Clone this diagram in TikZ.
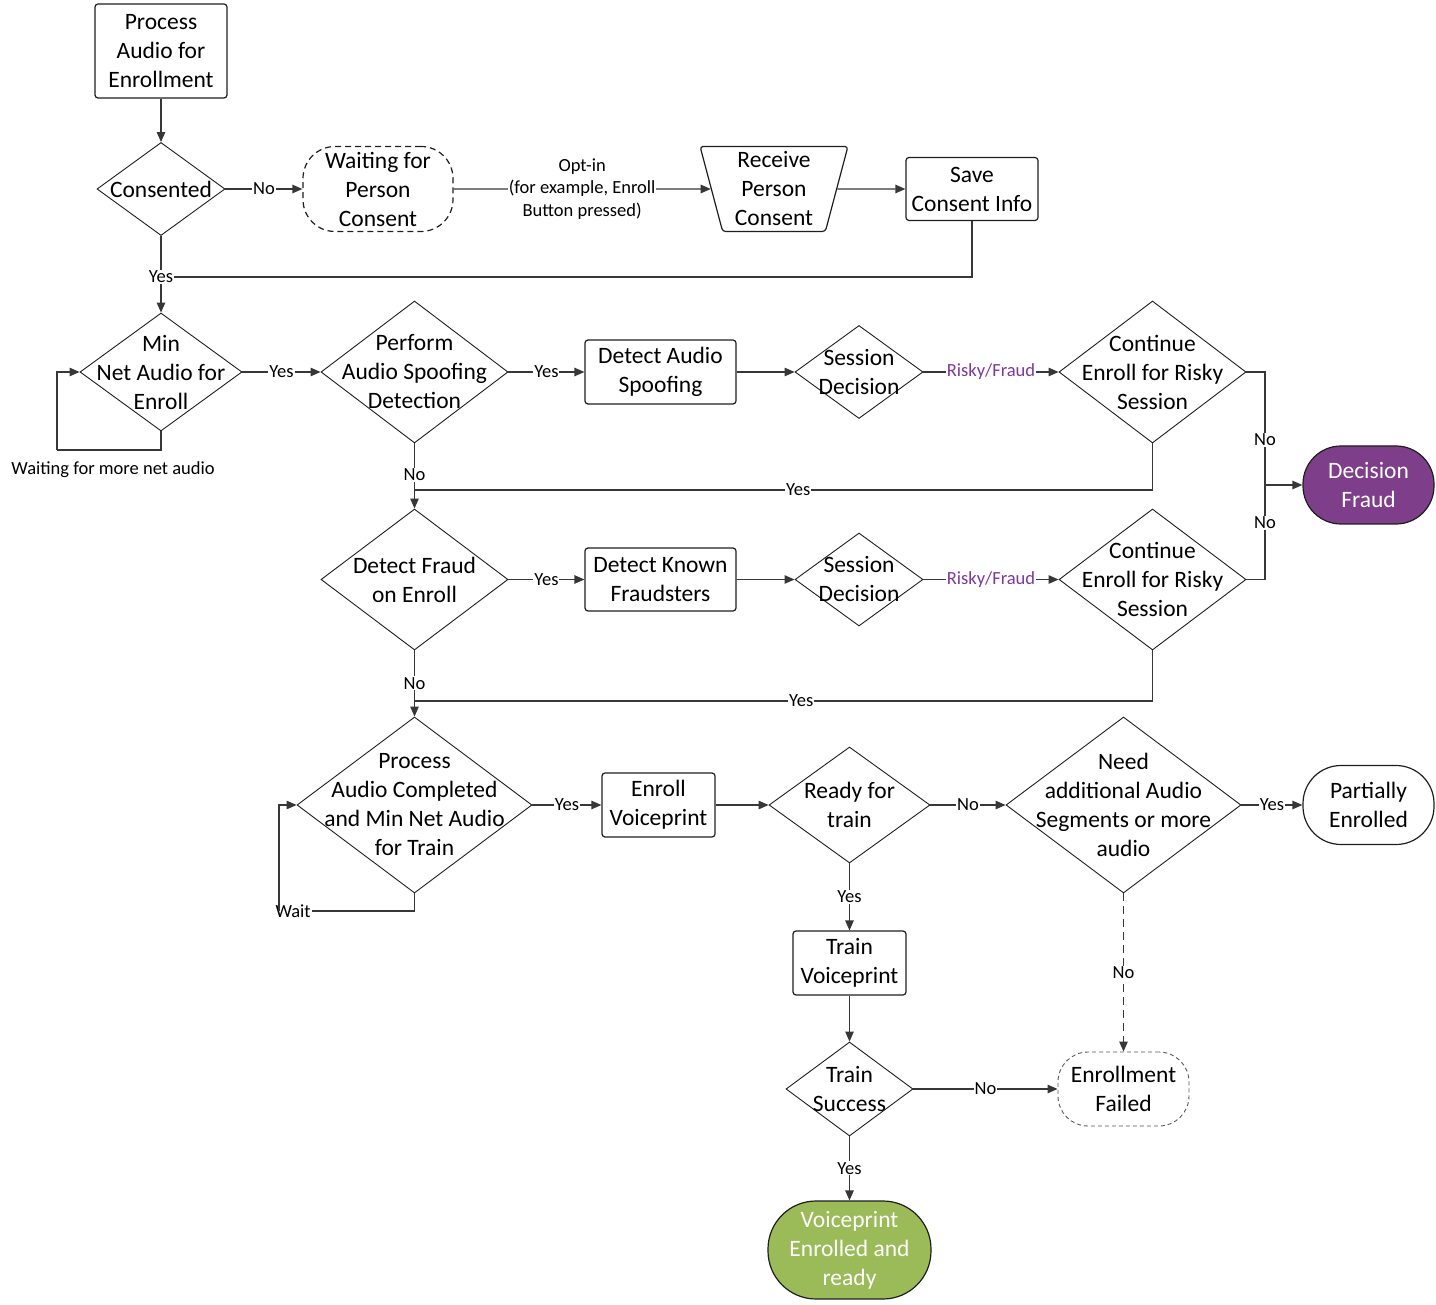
\documentclass[tikz,border=0pt]{standalone}
\usepackage{fontspec}
\setmainfont{Carlito}
\usetikzlibrary{shapes.geometric,arrows.meta}
\definecolor{ln}{RGB}{55,55,55}
\definecolor{bd}{RGB}{30,30,30}
\definecolor{fraudc}{RGB}{126,62,138}
\definecolor{riskc}{RGB}{125,55,160}
\definecolor{greenc}{RGB}{155,187,89}
\begin{document}
\begin{tikzpicture}[x=1pt,y=-1pt,
  txt/.style={font=\fontsize{23.5}{29}\selectfont, align=center, inner sep=0pt},
  box/.style={txt, draw=bd, line width=1.2pt, rounded corners=3pt},
  dia/.style={diamond, draw=bd, line width=0.9pt, inner sep=0pt},
  term/.style={txt, draw=bd, line width=1.2pt},
  lbl/.style={font=\fontsize{18.5}{22.5}\selectfont, align=center, fill=white, inner sep=1pt},
  con/.style={draw=ln, line width=1.2pt},
  arr/.style={con, -{Triangle[length=10pt,width=8.5pt]}}
]
\useasboundingbox (0,0) rectangle (1436,1305);

% nodes
\node[box, minimum width=132pt, minimum height=94pt] (proc) at (161,51) {Process\\Audio for\\Enrollment};
\node[dia, minimum width=128pt, minimum height=93pt, label={[txt]center:Consented}] (cons) at (161,189) {};
\node[term, dashed, dash pattern=on 6pt off 4pt, minimum width=150pt, minimum height=85pt, rounded corners=32pt] (wait) at (378,189) {Waiting for\\Person\\Consent};
\node[txt, draw=bd, line width=1.2pt, trapezium, trapezium stretches=true, shape border rotate=180, trapezium left angle=77, trapezium right angle=77, minimum width=148pt, minimum height=85pt, rounded corners=3pt] (recv) at (774,189) {Receive\\Person\\Consent};
\node[box, minimum width=132pt, minimum height=63pt] (save) at (972,189) {Save\\Consent Info};

\node[dia, minimum width=162pt, minimum height=118pt, label={[txt]center:{Min\\Net Audio for\\Enroll}}] (minnet) at (161,372) {};
\node[dia, minimum width=187pt, minimum height=142pt, label={[txt]center:{Perform\\Audio Spoofing\\Detection}}] (spoof) at (414.5,372) {};
\node[box, minimum width=151pt, minimum height=64pt] (detaudio) at (660.5,372) {Detect Audio\\Spoofing};
\node[dia, minimum width=128pt, minimum height=93pt, label={[txt]center:{Session\\Decision}}] (sess1) at (859,372) {};
\node[dia, minimum width=187pt, minimum height=142pt, label={[txt]center:{Continue\\Enroll for Risky\\Session}}] (cont1) at (1152.5,372) {};
\node[term, fill=fraudc, text=white, minimum width=131pt, minimum height=78pt, rounded corners=38pt] (fraud) at (1368.5,485) {Decision\\Fraud};

\node[dia, minimum width=187pt, minimum height=141pt, label={[txt]center:{Detect Fraud\\on Enroll}}] (detfraud) at (414.5,579.5) {};
\node[box, minimum width=151pt, minimum height=63pt] (known) at (660.5,579.5) {Detect Known\\Fraudsters};
\node[dia, minimum width=128pt, minimum height=93pt, label={[txt]center:{Session\\Decision}}] (sess2) at (859,579.5) {};
\node[dia, minimum width=187pt, minimum height=141pt, label={[txt]center:{Continue\\Enroll for Risky\\Session}}] (cont2) at (1152.5,579.5) {};

\node[dia, minimum width=235pt, minimum height=176pt, label={[txt]center:{Process\\Audio Completed\\and Min Net Audio\\for Train}}] (pac) at (414.5,805) {};
\node[box, minimum width=113pt, minimum height=64pt] (enroll) at (658.5,805) {Enroll\\Voiceprint};
\node[dia, minimum width=161pt, minimum height=116pt, label={[txt]center:{Ready for\\train}}] (ready) at (849.5,805) {};
\node[dia, minimum width=235pt, minimum height=176pt, label={[txt]center:{Need\\additional Audio\\Segments or more\\audio}}] (need) at (1123.5,805) {};
\node[term, minimum width=131pt, minimum height=79pt, rounded corners=38pt] (partial) at (1368.5,805) {Partially\\Enrolled};

\node[box, minimum width=113pt, minimum height=64pt] (train) at (849.5,963) {Train\\Voiceprint};
\node[dia, minimum width=127pt, minimum height=94pt, label={[txt]center:{Train\\Success}}] (success) at (849.5,1089) {};
\node[term, draw=black!65, line width=0.9pt, dashed, dash pattern=on 4pt off 3pt, minimum width=131pt, minimum height=74pt, rounded corners=30pt] (failed) at (1123.5,1089) {Enrollment\\Failed};
\node[term, fill=greenc, text=white, minimum width=163pt, minimum height=98pt, rounded corners=48pt] (voice) at (849.5,1250) {Voiceprint\\Enrolled and\\ready};

\node[font=\fontsize{18.5}{22.5}\selectfont, inner sep=0pt] (waitnote) at (113,470) {Waiting for more net audio};

% junctions
\coordinate (j1) at (161,277);
\coordinate (l1) at (57,450);
\coordinate (j2) at (414.5,490);
\coordinate (j3) at (414.5,701);
\coordinate (j4) at (1265,485);
\coordinate (l2) at (279,911);

% connectors
\draw[arr] (proc.south) -- (cons.north);
\draw[arr] (cons.east) -- node[lbl]{No} (wait.west);
\draw[arr] (wait.east) -- node[lbl]{Opt-in\\(for example, Enroll\\Button pressed)} (recv);
\draw[arr] (recv) -- (save.west);
\draw[con] (save.south) |- (j1);
\draw[arr] (cons.south) -- (j1) node[lbl]{Yes} -- (minnet.north);

\draw[con] (minnet.south) |- (l1);
\draw[arr] (l1) |- (minnet.west);
\draw[arr] (minnet.east) -- node[lbl]{Yes} (spoof.west);
\draw[arr] (spoof.east) -- node[lbl]{Yes} (detaudio.west);
\draw[arr] (detaudio.east) -- (sess1.west);
\draw[arr] (sess1.east) -- node[lbl, text=riskc]{Risky/Fraud} (cont1.west);
\draw[con] (cont1.east) -| node[lbl, pos=0.8]{No} (j4);
\draw[con] (cont2.east) -| node[lbl, pos=0.8]{No} (j4);
\draw[arr] (j4) -- (fraud.west);
\draw[con] (cont1.south) |- node[lbl, pos=0.74]{Yes} (j2);
\draw[arr] (spoof.south) -- node[lbl, pos=0.68]{No} (j2) -- (detfraud.north);

\draw[arr] (detfraud.east) -- node[lbl]{Yes} (known.west);
\draw[arr] (known.east) -- (sess2.west);
\draw[arr] (sess2.east) -- node[lbl, text=riskc]{Risky/Fraud} (cont2.west);
\draw[con] (cont2.south) |- node[lbl, pos=0.738]{Yes} (j3);
\draw[arr] (detfraud.south) -- node[lbl, pos=0.65]{No} (j3) -- (pac.north);

\draw[con] (pac.south) |- node[lbl, pos=0.948]{Wait} (l2);
\draw[arr] (l2) |- (pac.west);
\draw[arr] (pac.east) -- node[lbl]{Yes} (enroll.west);
\draw[arr] (enroll.east) -- (ready.west);
\draw[arr] (ready.east) -- node[lbl]{No} (need.west);
\draw[arr] (need.east) -- node[lbl]{Yes} (partial.west);
\draw[arr] (ready.south) -- node[lbl]{Yes} (train.north);
\draw[arr] (train.south) -- (success.north);
\draw[arr] (success.east) -- node[lbl]{No} (failed.west);
\draw[arr, dashed, dash pattern=on 8pt off 5pt] (need.south) -- node[lbl]{No} (failed.north);
\draw[arr] (success.south) -- node[lbl]{Yes} (voice.north);
\end{tikzpicture}
\end{document}
